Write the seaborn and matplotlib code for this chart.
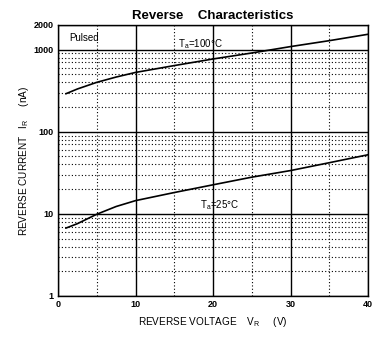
import matplotlib
matplotlib.use("Agg")
import matplotlib.pyplot as plt
import seaborn as sns
import pandas as pd
from matplotlib.ticker import FixedLocator, NullFormatter

# Reverse current vs reverse voltage, read at fixed voltages
voltage = [1, 2.5, 5, 7.5, 10, 15, 20, 25, 30, 35, 40]
current_100c = [290, 332, 400, 464, 528, 640, 770, 911, 1090, 1287, 1540]
current_25c = [6.7, 7.6, 9.9, 12.3, 14.5, 18.2, 22.6, 28.0, 33.7, 42.0, 52.5]

x_ticks = [0, 10, 20, 30, 40]
y_ticks = [1, 10, 100, 1000, 2000]
y_tick_labels = ["1", "10", "100", "1000", "2000"]

df = pd.DataFrame({
    "V": voltage * 2,
    "I": current_100c + current_25c,
    "T": ["100"] * len(voltage) + ["25"] * len(voltage),
})

sns.set_theme(style="white")
plt.rcParams["font.family"] = ["Liberation Sans", "DejaVu Sans"]
plt.rcParams["text.color"] = "black"
plt.rcParams["axes.labelcolor"] = "black"
plt.rcParams["xtick.color"] = "black"
plt.rcParams["ytick.color"] = "black"

fig = plt.figure(figsize=(3.92, 3.37), dpi=100)
ax = fig.add_axes([0.148, 0.1217, 0.791, 0.8043])

sns.lineplot(data=df, x="V", y="I", units="T", estimator=None,
             color="black", linewidth=1.2, ax=ax, legend=False)

ax.set_yscale("log")
ax.set_xlim(0, 40)
ax.set_ylim(1, 2000)

ax.xaxis.set_major_locator(FixedLocator(x_ticks))
ax.xaxis.set_minor_locator(FixedLocator([5, 15, 25, 35]))
ax.yaxis.set_major_locator(FixedLocator(y_ticks))
ax.set_yticklabels(y_tick_labels)
minor_y = [m * 10 ** d for d in range(0, 3) for m in range(2, 10)]
ax.yaxis.set_minor_locator(FixedLocator(minor_y))
ax.yaxis.set_minor_formatter(NullFormatter())

ax.grid(True, which="major", color="black", linewidth=1.0, linestyle="-")
ax.grid(True, which="minor", color="black", linewidth=0.8, linestyle=(0, (1, 2)))
ax.set_axisbelow(True)

ax.tick_params(axis="both", which="both", length=0, labelsize=6.5, pad=3)
for lbl in ax.get_xticklabels() + ax.get_yticklabels():
    lbl.set_fontweight("bold")

for s in ax.spines.values():
    s.set_color("black")
    s.set_linewidth(1.0)

ax.set_xlabel("REVERSE VOLTAGE    V$_\\mathregular{R}$     (V)", fontsize=7.2, labelpad=4)
ax.set_ylabel("REVERSE CURRENT   I$_\\mathregular{R}$     (nA)", fontsize=7.2, labelpad=2)
ax.set_title("Reverse    Characteristics", fontsize=9.5, fontweight="bold", pad=4)

ax.text(1.5, 1400, "Pulsed", fontsize=7, va="center")
ax.text(15.5, 1180, "T$_\\mathregular{a}$=100\u00b0C", fontsize=7, va="center")
ax.text(18.3, 12.8, "T$_\\mathregular{a}$=25\u00b0C", fontsize=7, va="center")

fig.savefig("out.png", dpi=100, facecolor="white")
